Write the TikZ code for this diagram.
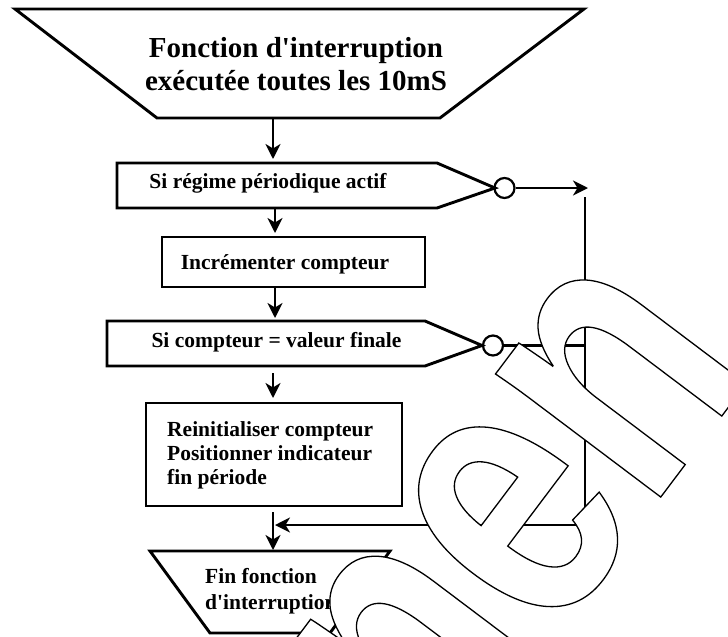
\documentclass[tikz,border=0pt]{standalone}
\usepackage{fontspec}
\setmainfont{Liberation Serif}[Ligatures=TeXOff]
\newfontfamily\wmfont{Liberation Sans}[FakeStretch=0.76]
\usetikzlibrary{arrows.meta}
\begin{document}
\begin{tikzpicture}[x=1pt,y=-1pt,
  box/.style={line width=2.9pt, line join=miter},
  conn/.style={line width=2.2pt},
  arr/.style={conn, -{Stealth[length=15pt,width=15pt,inset=4.5pt]}},
  lbl/.style={font=\fontsize{21.5}{24}\selectfont\bfseries, inner sep=0pt},
  ttl/.style={font=\fontsize{29}{32.5}\selectfont\bfseries, inner sep=0pt, align=center},
  dot/.style={circle, draw, line width=2.2pt, minimum size=20pt, inner sep=0pt}]
\useasboundingbox (0,0) rectangle (728,637);
\clip (0,0) rectangle (728,637);
% title
\coordinate (t1) at (15,9); \coordinate (t2) at (584,9);
\coordinate (t3) at (440,118); \coordinate (t4) at (157,118);
\draw[box] (t1) -- (t2) -- (t3) -- (t4) -- cycle;
\node[ttl] (title) at (296,64) {Fonction d'interruption\\exécutée toutes les 10mS};
% test 1
\coordinate (p1a) at (117,163); \coordinate (p1b) at (437,163); \coordinate (p1c) at (495,188);
\coordinate (p1d) at (437,208); \coordinate (p1e) at (117,208);
\draw[box] (p1a) -- (p1b) -- (p1c) -- (p1d) -- (p1e) -- cycle;
\node[lbl, anchor=base] (q1) at (268,188) {Si régime périodique actif};
\node[dot] (c1) at (504.5,188) {};
\coordinate (o1) at (588,188);
\draw[arr] (c1.east) -- (o1);
% box 2
\coordinate (b2a) at (162,237); \coordinate (b2b) at (425,287);
\draw[box] (b2a) rectangle (b2b);
\node[lbl, anchor=base] (inc) at (285,269) {Incrémenter compteur};
% test 2
\coordinate (p2a) at (107,321); \coordinate (p2b) at (425,321); \coordinate (p2c) at (482,345.5);
\coordinate (p2d) at (425,366); \coordinate (p2e) at (107,366);
\draw[box] (p2a) -- (p2b) -- (p2c) -- (p2d) -- (p2e) -- cycle;
\node[lbl, anchor=base] (q2) at (276.5,347) {Si compteur = valeur finale};
\node[dot] (c2) at (493,345.5) {};
% box 3
\coordinate (b3a) at (146,403); \coordinate (b3b) at (402,506);
\draw[box] (b3a) rectangle (b3b);
\node[lbl, anchor=north west, align=left] (rst) at (167,421) {Reinitialiser compteur\\Positionner indicateur\\fin période};
% end
\coordinate (e1) at (150,551); \coordinate (e2) at (390,551);
\coordinate (e3) at (330,633); \coordinate (e4) at (210,633);
\draw[box] (e1) -- (e2) -- (e3) -- (e4) -- cycle;
\node[lbl, font=\fontsize{21.5}{26}\selectfont\bfseries, anchor=north west, align=left] (fin) at (205,568) {Fin fonction\\d'interruption};
% connectors
\coordinate (a1s) at (273,118); \coordinate (a1e) at (273,159);
\coordinate (a2s) at (275,209); \coordinate (a2e) at (275,233);
\coordinate (a3s) at (275,287); \coordinate (a3e) at (275,318);
\coordinate (a4s) at (273,373); \coordinate (a4e) at (273,398);
\coordinate (a5s) at (273,512); \coordinate (a5e) at (273,550);
\draw[arr] (a1s) -- (a1e);
\draw[arr] (a2s) -- (a2e);
\draw[arr] (a3s) -- (a3e);
\draw[arr] (a4s) -- (a4e);
\draw[arr] (a5s) -- (a5e);
\coordinate (v1) at (585,197); \coordinate (fb) at (275,525);
\draw[arr] (v1) |- (fb);
\draw[conn] (c2.east) -- (c2.east -| v1);
% watermark
\node[rotate=53, anchor=base west, inner sep=0pt] (wm) at (440,790)
  {\fontsize{390}{400}\selectfont\wmfont\bfseries\special{pdf:literal direct 1 g 0 G 1.3 w 2 Tr}nen\special{pdf:literal direct 0 g 0 G 0 Tr}};
\end{tikzpicture}
\end{document}
